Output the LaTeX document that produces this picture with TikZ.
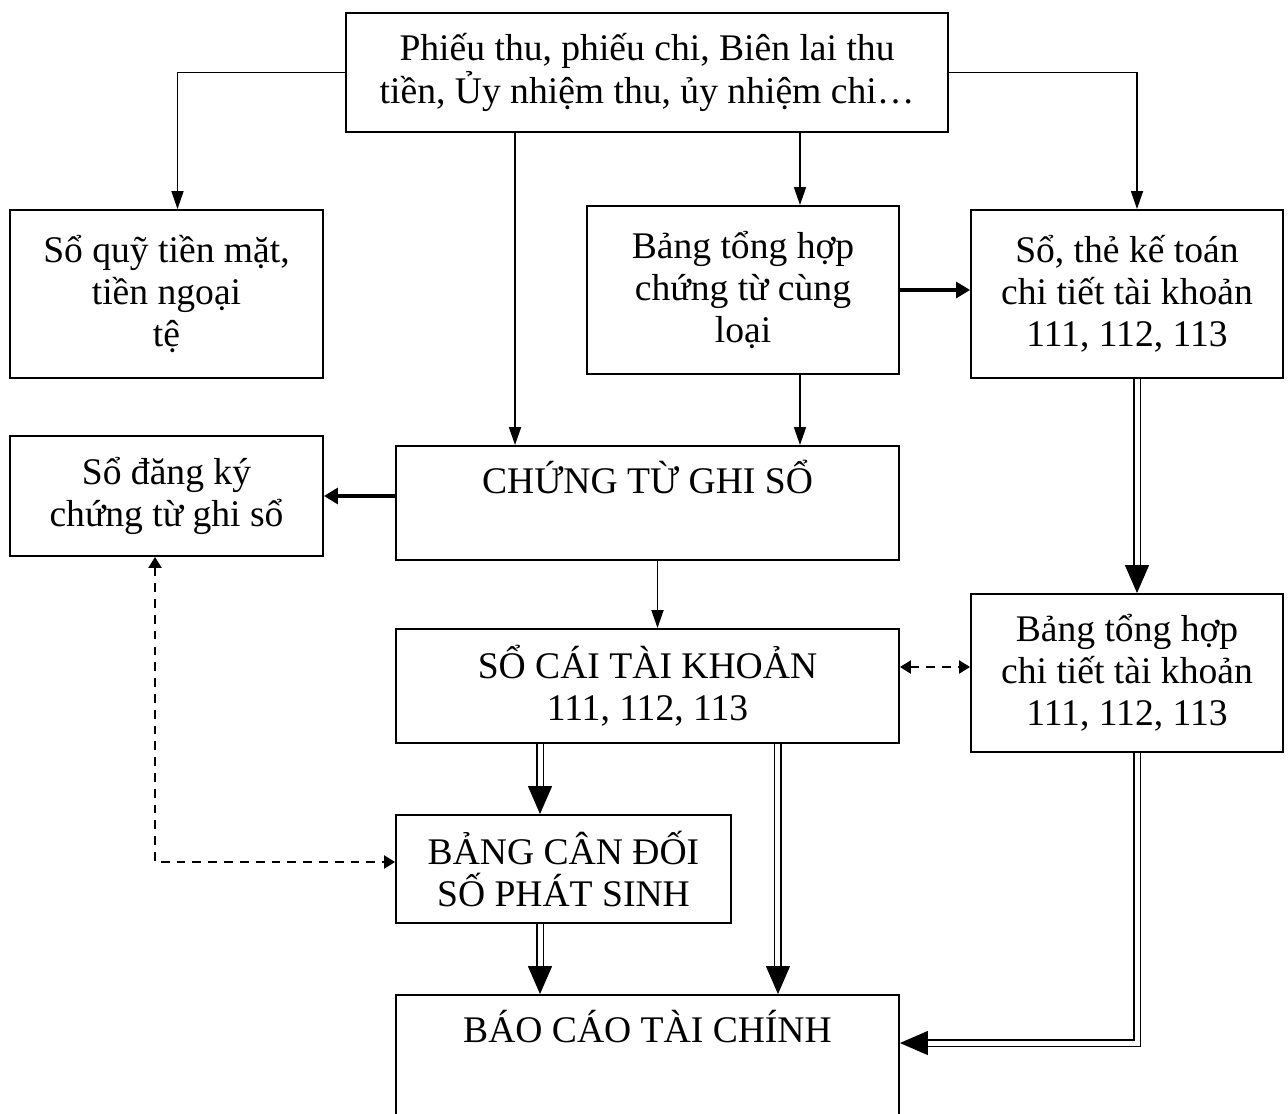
\documentclass[tikz,border=0pt]{standalone}
\usepackage{fontspec}
\setmainfont{Liberation Serif}
\usetikzlibrary{arrows.meta}

\begin{document}
\begin{tikzpicture}[
    x=0.02cm, y=-0.02cm,
    box/.style={
        draw=black,
        line width=1.1pt,
        align=center,
        font=\fontsize{21.4}{24}\selectfont
    },
    arr/.style={
        -{Triangle[length=0.36cm,width=0.24cm]},
        line width=1pt
    },
    thickarr/.style={
        -{Triangle[length=0.28cm,width=0.32cm]},
        line width=1.8pt
    },
    dblarr/.style={
        double, double distance=0.1cm, line width=0.75pt,
        -{Triangle[length=0.56cm,width=0.48cm]}
    },
    dasharr/.style={
        {Triangle[length=0.22cm,width=0.26cm]}-{Triangle[length=0.22cm,width=0.26cm]},
        line width=1.2pt, dash pattern=on 5pt off 4pt
    }
]
    \useasboundingbox (0,0) rectangle (1288,1113);

    \node[box, minimum width=12.04cm, minimum height=2.38cm] (src) at (647,72.5)
        {Phiếu thu, phiếu chi, Biên lai thu\\tiền, Ủy nhiệm thu, ủy nhiệm chi…};
    \node[box, minimum width=6.26cm, minimum height=3.36cm] (quy) at (166.5,294)
        {Sổ quỹ tiền mặt,\\tiền ngoại\\tệ};
    \node[box, minimum width=6.24cm, minimum height=3.36cm] (thcl) at (743,290)
        {Bảng tổng hợp\\chứng từ cùng\\loại};
    \node[box, minimum width=6.24cm, minimum height=3.36cm] (sothe) at (1127,294)
        {Sổ, thẻ kế toán\\chi tiết tài khoản\\111, 112, 113};
    \node[box, minimum width=6.26cm, minimum height=2.4cm] (dangky) at (166.5,496)
        {Sổ đăng ký\\chứng từ ghi sổ};
    \node[box, minimum width=10.06cm, inner sep=0pt, text height=0.94cm, text depth=1.34cm] (ctgs) at (647.5,503)
        {CHỨNG TỪ GHI SỔ};
    \node[box, minimum width=10.06cm, minimum height=2.28cm] (socai) at (647.5,686)
        {SỔ CÁI TÀI KHOẢN\\111, 112, 113};
    \node[box, minimum width=6.24cm, minimum height=3.16cm] (thct) at (1127,673)
        {Bảng tổng hợp\\chi tiết tài khoản\\111, 112, 113};
    \node[box, minimum width=6.7cm, minimum height=2.16cm] (cdps) at (563.5,869)
        {BẢNG CÂN ĐỐI\\SỐ PHÁT SINH};
    \node[box, minimum width=10.06cm, inner sep=0pt, text height=0.94cm, text depth=1.86cm] (bctc) at (647.5,1065)
        {BÁO CÁO TÀI CHÍNH};

    % from the source documents
    \draw[arr] (src.west) -| ([xshift=0.22cm]quy.north);
    \draw[arr] (src.east) -| ([xshift=0.2cm]sothe.north);
    \draw[arr] ([xshift=-2.64cm]src.south) -- ([xshift=-2.64cm]src.south |- ctgs.north);
    \draw[arr] ([xshift=1.14cm]thcl.north |- src.south) -- ([xshift=1.14cm]thcl.north);
    \draw[arr] ([xshift=1.14cm]thcl.south) -- ([xshift=1.14cm]thcl.south |- ctgs.north);
    \draw[thickarr] (thcl.east) -- (thcl.east -| sothe.west);
    \draw[thickarr] (ctgs.west |- dangky.east) -- (dangky.east);
    \draw[arr] ([xshift=0.2cm]ctgs.south) -- ([xshift=0.2cm]socai.north);

    % double lines
    \draw[dblarr] ([xshift=0.2cm]sothe.south) -- ([xshift=0.2cm]thct.north);
    \draw[dblarr] ([xshift=-0.47cm]cdps.north |- socai.south) -- ([xshift=-0.47cm]cdps.north);
    \draw[dblarr] ([xshift=2.61cm]socai.south) -- ([xshift=2.61cm]bctc.north);
    \draw[dblarr] ([xshift=-0.47cm]cdps.south) -- ([xshift=-0.47cm]cdps.south |- bctc.north);
    \draw[dblarr] ([xshift=0.2cm]thct.south) |- ([yshift=0.44cm]bctc.east);

    % checks
    \draw[dasharr] ([yshift=0.38cm]socai.east) -- ([yshift=0.38cm]socai.east -| thct.west);
    \draw[dasharr] ([xshift=-0.23cm]dangky.south) |- ([yshift=0.14cm]cdps.west);
\end{tikzpicture}
\end{document}
